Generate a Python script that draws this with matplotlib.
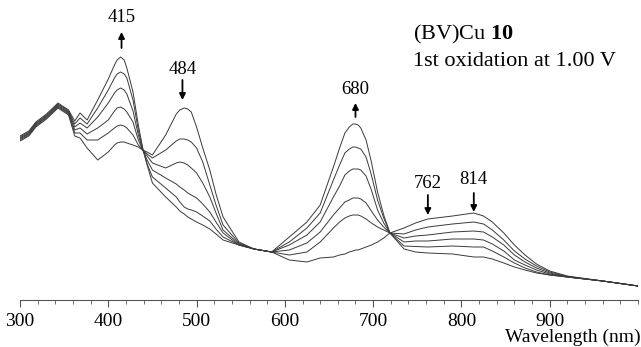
import numpy as np
import matplotlib
matplotlib.use("Agg")
import matplotlib.pyplot as plt
from matplotlib.ticker import MultipleLocator

plt.rcParams['font.family'] = ['Liberation Serif', 'DejaVu Serif']
plt.rcParams['mathtext.fontset'] = 'custom'
plt.rcParams['mathtext.rm'] = 'Liberation Serif'
plt.rcParams['mathtext.bf'] = 'Liberation Serif:bold'

# wavelength nodes (nm)
wavelength = [300, 310, 318, 330, 343, 355, 362, 368, 376, 388,
              400, 407, 410, 414, 418, 421, 428, 434, 439, 444,
              450, 465, 477, 481, 486, 490, 494, 500, 507, 515,
              522, 530, 548, 565, 585, 605, 625, 640, 655, 662,
              668, 673, 677, 680, 683, 686, 692, 698, 705, 712,
              719, 735, 748, 762, 790, 814, 825, 835, 848, 860,
              872, 885, 900, 920, 960, 1000]

# absorbance (a.u.), from start of oxidation (0) to end (5)
spec0 = [1.59, 1.64, 1.73, 1.81, 1.92, 1.85, 1.64, 1.62, 1.52, 1.40,
         1.48, 1.55, 1.57, 1.58, 1.58, 1.57, 1.55, 1.53, 1.50, 1.48,
         1.45, 1.65, 1.86, 1.90, 1.92, 1.91, 1.88, 1.73, 1.52, 1.30,
         1.06, 0.83, 0.58, 0.51, 0.48, 0.40, 0.38, 0.42, 0.43, 0.45,
         0.46, 0.48, 0.49, 0.50, 0.50, 0.51, 0.53, 0.55, 0.58, 0.62,
         0.67, 0.72, 0.77, 0.81, 0.84, 0.87, 0.84, 0.78, 0.67, 0.55,
         0.45, 0.36, 0.29, 0.24, 0.19, 0.14]
spec1 = [1.60, 1.65, 1.74, 1.82, 1.93, 1.86, 1.67, 1.67, 1.60, 1.60,
         1.67, 1.72, 1.74, 1.75, 1.74, 1.72, 1.65, 1.55, 1.50, 1.46,
         1.42, 1.50, 1.59, 1.61, 1.61, 1.60, 1.58, 1.52, 1.38, 1.15,
         0.95, 0.75, 0.57, 0.51, 0.48, 0.45, 0.48, 0.58, 0.72, 0.78,
         0.82, 0.84, 0.85, 0.85, 0.85, 0.84, 0.81, 0.77, 0.73, 0.70,
         0.67, 0.66, 0.70, 0.73, 0.76, 0.78, 0.76, 0.70, 0.60, 0.49,
         0.41, 0.34, 0.28, 0.235, 0.19, 0.14]
spec2 = [1.61, 1.66, 1.75, 1.83, 1.94, 1.87, 1.70, 1.72, 1.66, 1.72,
         1.80, 1.89, 1.92, 1.93, 1.91, 1.88, 1.78, 1.60, 1.50, 1.44,
         1.37, 1.32, 1.37, 1.38, 1.37, 1.35, 1.32, 1.27, 1.17, 1.03,
         0.87, 0.70, 0.56, 0.51, 0.48, 0.50, 0.57, 0.68, 0.85, 0.92,
         0.98, 1.00, 1.02, 1.02, 1.02, 1.01, 0.97, 0.89, 0.80, 0.73,
         0.67, 0.62, 0.64, 0.65, 0.68, 0.69, 0.68, 0.63, 0.55, 0.45,
         0.38, 0.32, 0.27, 0.23, 0.19, 0.14]
spec3 = [1.62, 1.67, 1.76, 1.84, 1.95, 1.88, 1.73, 1.77, 1.72, 1.83,
         1.97, 2.07, 2.10, 2.12, 2.10, 2.06, 1.89, 1.65, 1.50, 1.40,
         1.30, 1.22, 1.16, 1.13, 1.10, 1.07, 1.05, 1.02, 0.96, 0.88,
         0.78, 0.67, 0.55, 0.51, 0.48, 0.55, 0.65, 0.78, 1.03, 1.14,
         1.25, 1.29, 1.31, 1.31, 1.31, 1.30, 1.24, 1.10, 0.90, 0.77,
         0.67, 0.58, 0.59, 0.59, 0.61, 0.61, 0.60, 0.56, 0.49, 0.40,
         0.35, 0.30, 0.26, 0.23, 0.19, 0.14]
spec4 = [1.63, 1.68, 1.77, 1.85, 1.96, 1.89, 1.76, 1.82, 1.76, 1.92,
         2.10, 2.22, 2.26, 2.28, 2.26, 2.22, 2.00, 1.70, 1.51, 1.36,
         1.23, 1.12, 1.03, 0.98, 0.93, 0.91, 0.90, 0.88, 0.84, 0.79,
         0.71, 0.63, 0.55, 0.51, 0.48, 0.58, 0.72, 0.87, 1.20, 1.35,
         1.47, 1.51, 1.53, 1.53, 1.52, 1.51, 1.43, 1.25, 1.00, 0.82,
         0.67, 0.54, 0.535, 0.53, 0.54, 0.53, 0.53, 0.49, 0.43, 0.37,
         0.32, 0.28, 0.25, 0.23, 0.19, 0.14]
spec5 = [1.64, 1.69, 1.78, 1.86, 1.97, 1.90, 1.79, 1.87, 1.80, 2.00,
         2.21, 2.35, 2.40, 2.43, 2.40, 2.32, 2.08, 1.75, 1.52, 1.35,
         1.17, 1.03, 0.93, 0.89, 0.86, 0.83, 0.81, 0.78, 0.75, 0.71,
         0.66, 0.60, 0.55, 0.51, 0.48, 0.63, 0.78, 0.95, 1.33, 1.52,
         1.67, 1.73, 1.76, 1.76, 1.75, 1.72, 1.60, 1.38, 1.08, 0.85,
         0.67, 0.51, 0.48, 0.47, 0.46, 0.43, 0.43, 0.41, 0.37, 0.33,
         0.30, 0.27, 0.25, 0.23, 0.19, 0.14]
spectra = [spec0, spec1, spec2, spec3, spec4, spec5]

# band labels: (wavelength, text y, arrow tail y, arrow head y)
bands = [415, 484, 680, 762, 814]
band_text_y = [2.83, 2.31, 2.10, 1.17, 1.21]
band_tail_y = [2.52, 2.20, 1.83, 1.05, 1.07]
band_head_y = [2.68, 2.00, 1.97, 0.85, 0.88]

fig = plt.figure(figsize=(6.41, 3.47), dpi=100)
ax = fig.add_axes([20 / 641, 47 / 347, 618 / 641, 300 / 347])

for s in spectra:
    ax.plot(wavelength, s, color='#3a3a3a', lw=0.7)

for wl, ty, t0, t1 in zip(bands, band_text_y, band_tail_y, band_head_y):
    ax.text(wl, ty, str(wl), ha='center', va='center', fontsize=13.5)
    ax.annotate('', xy=(wl, t1), xytext=(wl, t0),
                arrowprops=dict(arrowstyle='-|>', color='k', lw=1.3, mutation_scale=9,
                                shrinkA=0, shrinkB=0))

ax.text(745, 2.66, r'(BV)Cu $\mathbf{10}$', ha='left', va='center', fontsize=16)
ax.text(745, 2.39, '1st oxidation at 1.00 V', ha='left', va='center', fontsize=16)

ax.set_xlim(300, 1000)
ax.set_ylim(0, 3.0)
for sp in ['left', 'top', 'right']:
    ax.spines[sp].set_visible(False)
ax.spines['bottom'].set_color('#555555')
ax.spines['bottom'].set_linewidth(0.8)
ax.set_yticks([])
ax.xaxis.set_minor_locator(MultipleLocator(20))
ax.set_xticks([300, 400, 500, 600, 700, 800, 900])
ax.set_xticklabels(['300', '400', '500', '600', '700', '800', '900'])
ax.tick_params(axis='x', which='major', length=5, width=0.8, color='#555555', labelsize=14, pad=4)
ax.tick_params(axis='x', which='minor', length=3, width=0.6, color='#555555')

fig.text(0.999, 5 / 347, 'Wavelength (nm)', ha='right', va='baseline', fontsize=14)

fig.savefig('out.png', dpi=100)
